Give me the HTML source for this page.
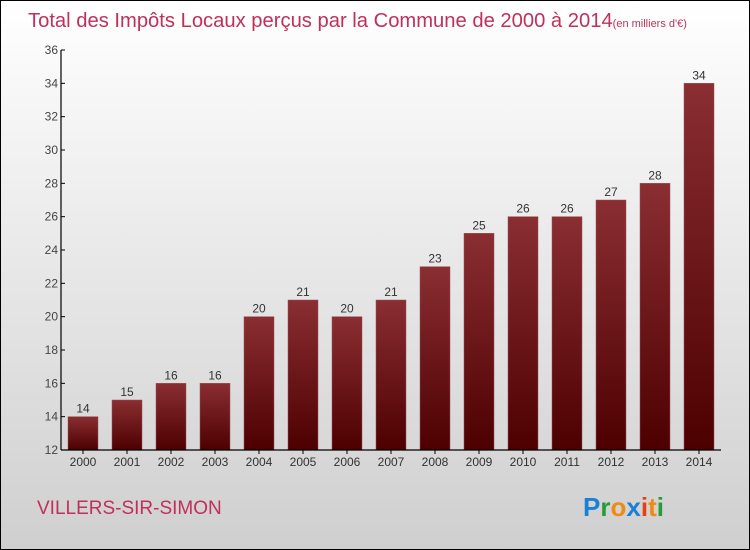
<!DOCTYPE html>
<html><head><meta charset="utf-8"><style>
body{margin:0}
#wrap{width:748px;height:548px;border:1px solid #000;background:linear-gradient(#ffffff,#cfcfcf);position:relative;overflow:hidden;font-family:"Liberation Sans",sans-serif}
</style></head><body>
<div id="wrap">
<svg id="chart" width="748" height="548">
<defs><linearGradient id="bg" x1="0" x2="0" y1="0" y2="1"><stop offset="0" stop-color="#8a2e32"/><stop offset="1" stop-color="#4d0000"/></linearGradient></defs>
<text x="27" y="26" font-size="20.2" fill="#c0305a">Total des Impôts Locaux perçus par la Commune de 2000 à 2014<tspan font-size="11">(en milliers d'€)</tspan></text>
<text x="36" y="513" font-size="19" fill="#c0305a">VILLERS-SIR-SIMON</text>
<text x="582" y="515" font-size="26" font-weight="bold"><tspan fill="#1a7fd6">P</tspan><tspan fill="#2a9a3a">r</tspan><tspan fill="#f08a10">o</tspan><tspan fill="#1a7fd6">x</tspan><tspan fill="#e84010">i</tspan><tspan fill="#f08a10">t</tspan><tspan fill="#2a9a3a">i</tspan></text>
</svg></div>
<script>
const years=["2000","2001","2002","2003","2004","2005","2006","2007","2008","2009","2010","2011","2012","2013","2014"];
const values=[14,15,16,16,20,21,20,21,23,25,26,26,27,28,34];
const yTicks=[12,14,16,18,20,22,24,26,28,30,32,34,36];
const svg=document.getElementById('chart');const NS='http://www.w3.org/2000/svg';
const x0=60,x1=720,y0=449,y1=49,ymin=12,ymax=36;
const ys=v=>y0-(v-ymin)/(ymax-ymin)*(y0-y1);
const step=(x1-x0)/years.length;const xc=i=>x0+step*(i+0.5);
function mk(t,a){const e=document.createElementNS(NS,t);for(const k in a)e.setAttribute(k,a[k]);svg.appendChild(e);return e;}
values.forEach((v,i)=>{
const r=mk('rect',{x:xc(i)-15,y:ys(v),width:30,height:y0-ys(v),fill:'url(#bg)',stroke:'#a05050','stroke-width':0.5});


const t=mk('text',{x:xc(i),y:ys(v)-4,'text-anchor':'middle','font-size':12,fill:'#333'});t.textContent=v;


const l=mk('text',{x:xc(i),y:y0+16,'text-anchor':'middle','font-size':12,fill:'#333'});l.textContent=years[i];


mk('line',{x1:xc(i),x2:xc(i),y1:y0,y2:y0+4,stroke:'#000'});
});
yTicks.forEach(v=>{
mk('line',{x1:x0,x2:x0+4,y1:ys(v),y2:ys(v),stroke:'#000'});
const t=mk('text',{x:x0-3,y:ys(v)+4,'text-anchor':'end','font-size':12,fill:'#444'});t.textContent=v;


});
const ya=mk('line',{x1:x0,x2:x0,y1:y1,y2:y0,stroke:'#000','stroke-width':1.2});


const xa=mk('line',{x1:x0,x2:x1,y1:y0,y2:y0,stroke:'#000','stroke-width':1.2});


</script>
</body></html>
